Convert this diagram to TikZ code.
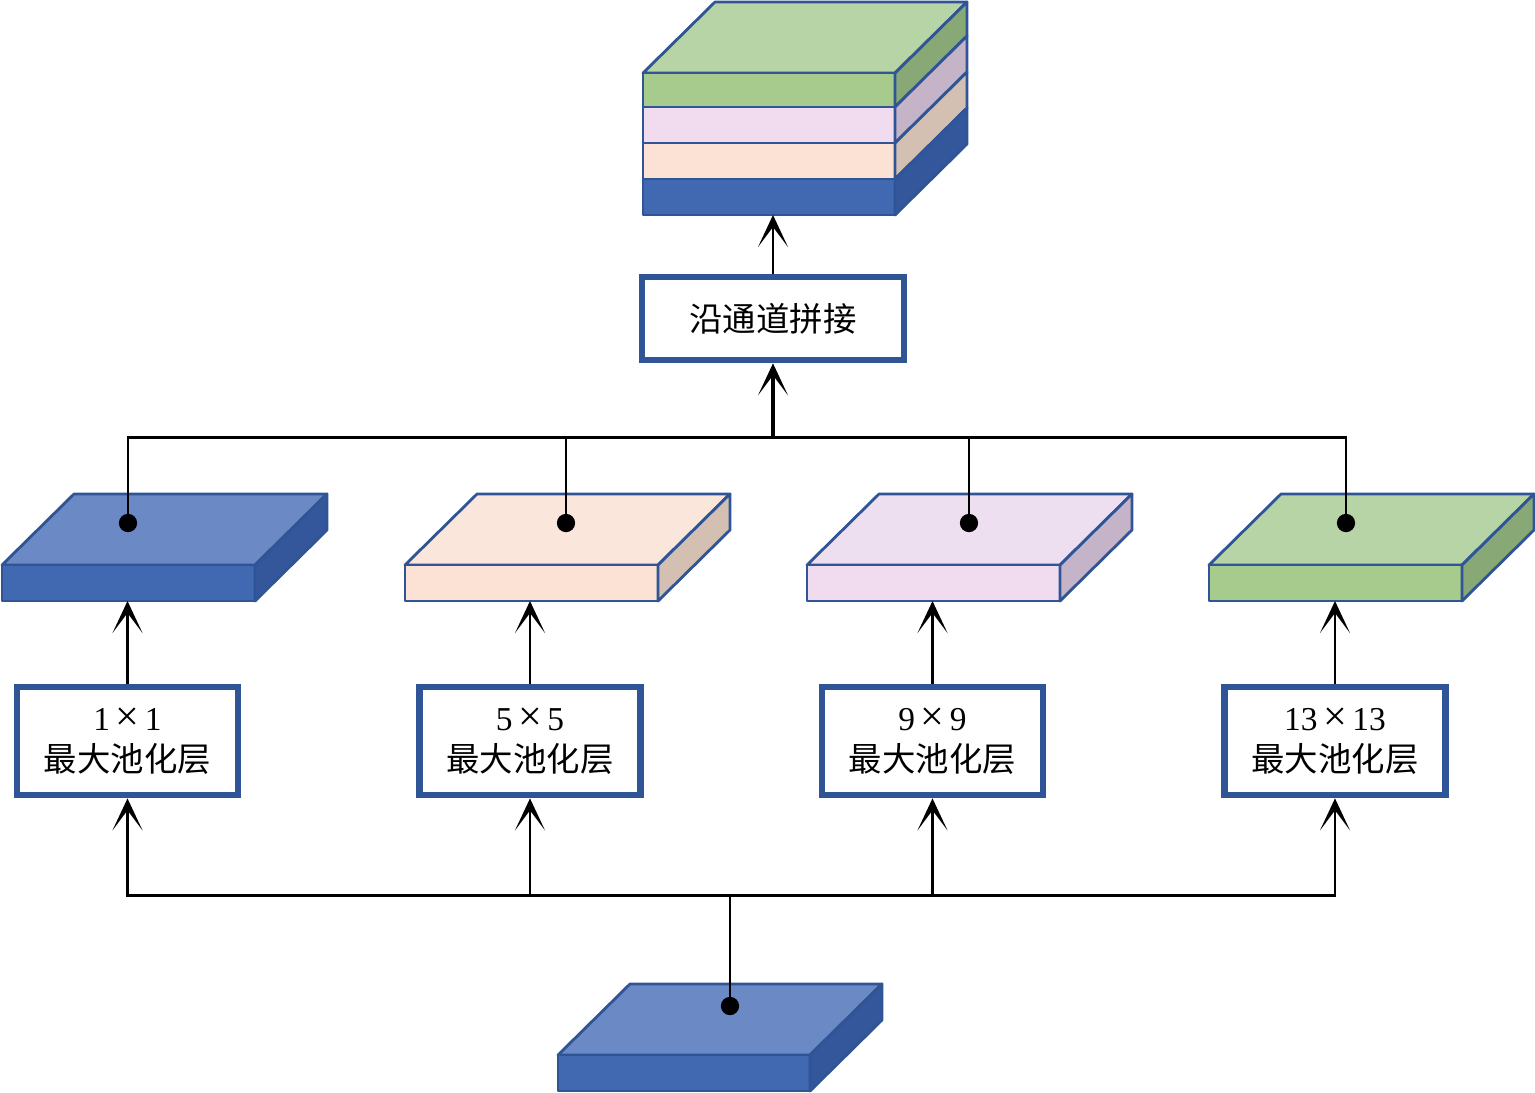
\documentclass[tikz,border=0pt]{standalone}
\usepackage{fontspec}
\setmainfont{Liberation Serif}
\newfontfamily\cjk{Noto Sans CJK SC}
\usetikzlibrary{arrows.meta,positioning}

% Cores
\definecolor{bordo}{HTML}{2F5597}
\definecolor{azulTopo}{HTML}{6A89C5}
\definecolor{azulFrente}{HTML}{4069B2}
\definecolor{azulLado}{HTML}{34579B}
\definecolor{pessegoTopo}{HTML}{FBE6DC}
\definecolor{pessegoFrente}{HTML}{FBE2D5}
\definecolor{pessegoLado}{HTML}{D3C0B2}
\definecolor{rosaTopo}{HTML}{EEDFF0}
\definecolor{rosaFrente}{HTML}{F0DCEE}
\definecolor{rosaLado}{HTML}{C5B3C7}
\definecolor{verdeTopo}{HTML}{B6D4A6}
\definecolor{verdeFrente}{HTML}{A7CB8D}
\definecolor{verdeLado}{HTML}{88A876}

% Placa 3D: #1 x esq., #2 y topo da frente, #3 largura, #4 altura,
% #5 cor topo, #6 cor frente, #7 cor lado, #8 nome da base
\newcommand{\placa}[8]{%
  \filldraw[aresta, fill=#5] (#1,#2) -- ++(72,-71) -- ++(#3,0) -- ++(-72,71) -- cycle;
  \filldraw[aresta, fill=#6] (#1,#2) rectangle ++(#3,#4);
  \filldraw[aresta, fill=#7] ({#1+#3},#2) -- ++(72,-71) -- ++(0,#4) -- ++(-72,71) -- cycle;
  \coordinate (#8) at ({#1+#3/2},{#2+#4});
}

% Sinal de vezes mais largo
\newcommand{\vezes}{\,{\fontsize{12pt}{12pt}\selectfont ×}\,}

\begin{document}
\begin{tikzpicture}[x=0.01cm, y=-0.01cm,
    aresta/.style={draw=bordo, line width=0.8pt, line join=round},
    linha/.style={draw=black, line width=0.85pt},
    seta/.style={linha, -{Stealth[length=3.2mm, width=3mm, inset=2mm]}},
    ponto/.style={fill=black},
    caixa/.style={draw=bordo, line width=1.9pt, fill=white, align=center,
        inner sep=0pt, minimum width=2.21cm, minimum height=1.08cm,
        font=\fontsize{9.5pt}{11.6pt}\selectfont}]

    \useasboundingbox (0,0) rectangle (1535,1093);

    % Pilha concatenada (topo)
    \filldraw[aresta, fill=verdeTopo] (643,73) -- (715,2) -- (967,2) -- (895,73) -- cycle;
    \foreach \y/\h/\cf/\cl in {73/34/verdeFrente/verdeLado, 107/36/rosaFrente/rosaLado,
                               143/36/pessegoFrente/pessegoLado, 179/36/azulFrente/azulLado} {
        \filldraw[aresta, fill=\cf] (643,\y) rectangle ++(252,\h);
        \filldraw[aresta, fill=\cl] (895,\y) -- ++(72,-71) -- ++(0,\h) -- ++(-72,71) -- cycle;
    }
    \coordinate (pilha) at (773,215);

    % Caixa de concatenacao
    \node[caixa, minimum width=2.62cm, minimum height=0.83cm] (concat) at (773,318.5) {\cjk 沿通道拼接};

    % Placas de saida das camadas de pooling
    \placa{2}{565}{253}{36}{azulTopo}{azulFrente}{azulLado}{placa1}
    \placa{405}{565}{253}{36}{pessegoTopo}{pessegoFrente}{pessegoLado}{placa2}
    \placa{807}{565}{253}{36}{rosaTopo}{rosaFrente}{rosaLado}{placa3}
    \placa{1209}{565}{253}{36}{verdeTopo}{verdeFrente}{verdeLado}{placa4}

    % Placa de entrada (base)
    \placa{558}{1055}{252}{36}{azulTopo}{azulFrente}{azulLado}{entrada}

    % Camadas de max pooling
    \node[caixa] (max1) at (127.5,741) {1\vezes 1\\{\cjk 最大池化层}};
    \node[caixa] (max2) at (530,741) {5\vezes 5\\{\cjk 最大池化层}};
    \node[caixa] (max3) at (932.5,741) {9\vezes 9\\{\cjk 最大池化层}};
    \node[caixa] (max4) at (1335,741) {13\vezes 13\\{\cjk 最大池化层}};

    % Pontos de ligacao
    \coordinate (p0) at (730,1006);
    \coordinate (p1) at (128,523);
    \coordinate (p2) at (566,523);
    \coordinate (p3) at (969,523);
    \coordinate (p4) at (1346,523);
    \coordinate (juncao) at (773,437);
    \coordinate (barra) at (730,895);

    % Entrada -> camadas de pooling
    \draw[linha] (p0) -- (barra);
    \foreach \i in {1,...,4}
        \draw[seta] (barra) -| (max\i);

    % Pooling -> placas
    \foreach \i in {1,...,4}
        \draw[seta] (max\i) -- (max\i |- placa\i);

    % Placas -> concatenacao
    \foreach \i in {1,...,4}
        \draw[linha] (p\i) |- (juncao);
    \draw[seta, line width=1.2pt] (juncao) -- (concat);
    \draw[seta] (concat) -- (pilha);

    % Pontos
    \foreach \i in {0,...,4}
        \fill[ponto] (p\i) circle (2.6pt);

\end{tikzpicture}
\end{document}
